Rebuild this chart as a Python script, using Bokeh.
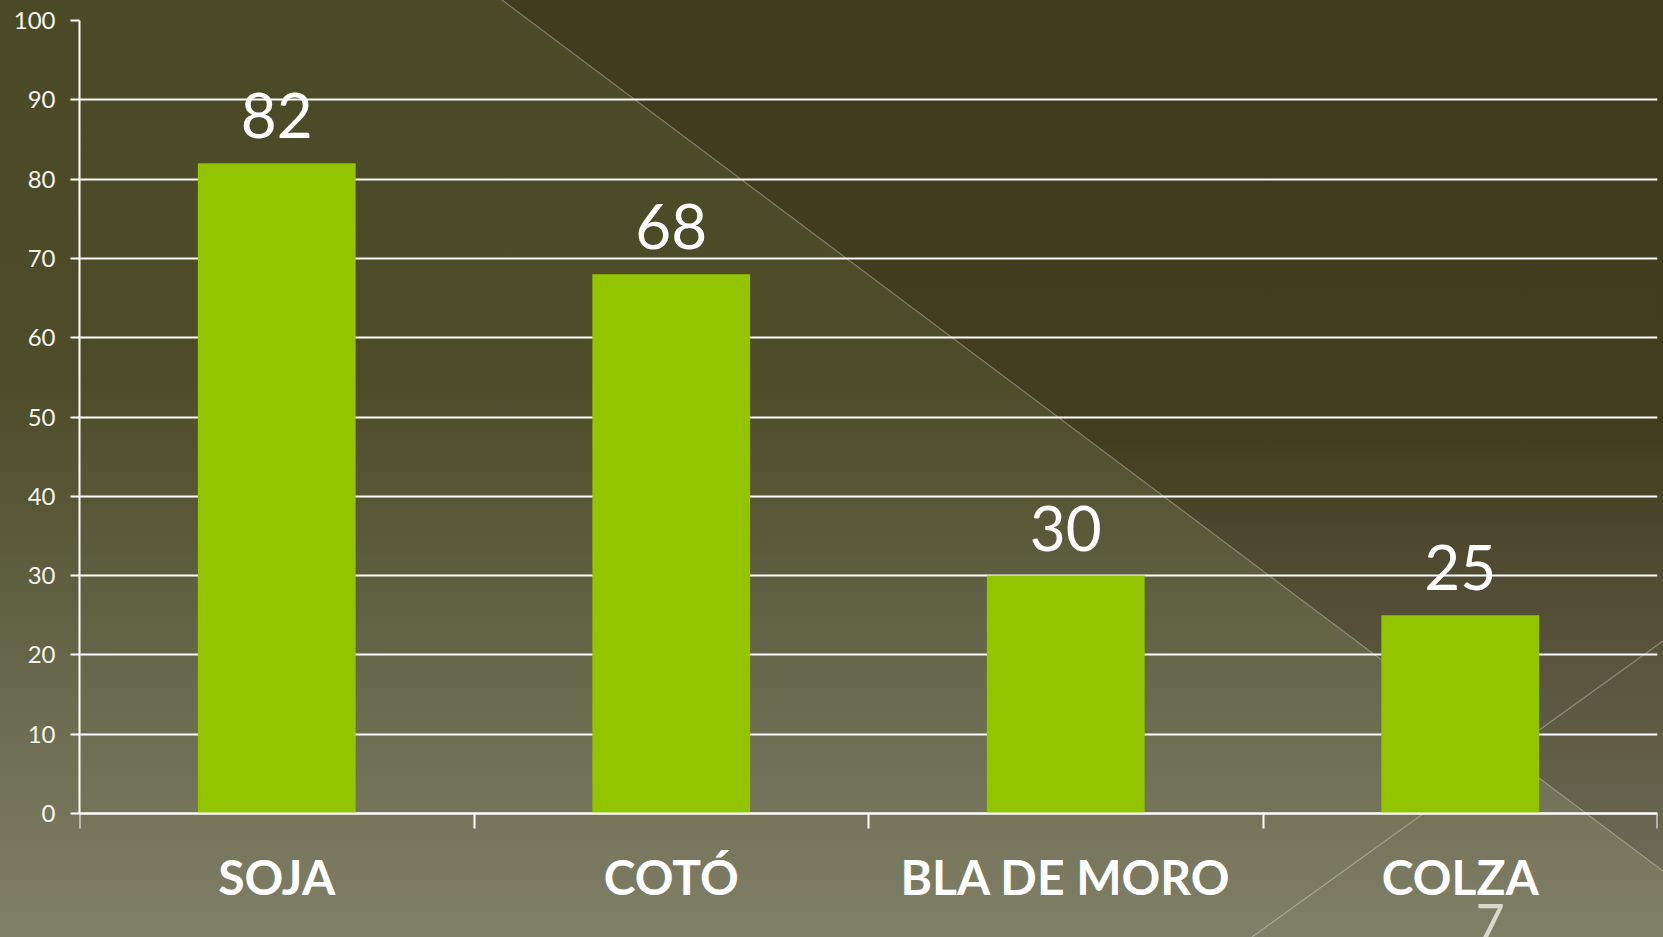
import base64
from bokeh.plotting import figure
from bokeh.models import (FixedTicker, Range1d, LabelSet, ColumnDataSource, Label,
                          GlobalInlineStyleSheet)
from bokeh.embed import file_html
from bokeh.resources import INLINE
from bokeh.core.properties import value

# ---- data ----
categories = ["SOJA", "COTÓ", "BLA DE MORO", "COLZA"]
values = [82, 68, 30, 25]
y_ticks = [0, 10, 20, 30, 40, 50, 60, 70, 80, 90, 100]
slide_number = "7"

BAR_COLOR = "#92c500"
FONT = "Lato"
W, H = 1663, 937
# frame reaches the slide's bottom; value 0 sits 124px above it (793px per 100 units)
Y_START = -124 / 7.93

x_centers = [i + 0.5 for i in range(len(categories))]
x_bounds = [i for i in range(len(categories) + 1)]
source = ColumnDataSource(dict(x=x_centers, top=values, label=[str(v) for v in values]))

p = figure(width=W, height=H, output_backend="svg", toolbar_location=None,
           x_range=Range1d(0, len(categories)), y_range=Range1d(Y_START, 100),
           min_border_left=79, min_border_right=6, min_border_top=20,
           min_border_bottom=0)

p.background_fill_color = None
p.border_fill_color = None
p.outline_line_color = None

# decorative slide background (gradient + diagonal shapes)
svg = f'''<svg xmlns="http://www.w3.org/2000/svg" width="{W}" height="{H}" viewBox="0 0 {W} {H}">
<defs><linearGradient id="g" gradientUnits="userSpaceOnUse" x1="0" y1="0" x2="0" y2="871">
<stop offset="0" stop-color="#403b1f"/><stop offset="0.5" stop-color="#433d20"/>
<stop offset="0.75" stop-color="#57533c"/><stop offset="1" stop-color="#6c6a55"/></linearGradient></defs>
<polygon points="502,0 {W},0 {W},871" fill="url(#g)"/>
<line x1="502" y1="0" x2="{W}" y2="871" stroke="#ffffff" stroke-opacity="0.3" stroke-width="1.2"/>
<line x1="1252" y1="{H}" x2="{W}" y2="641" stroke="#ffffff" stroke-opacity="0.3" stroke-width="1.2"/>
</svg>'''
b64 = base64.b64encode(svg.encode("utf-8")).decode("ascii")
p.styles = {
    "background-image": f'url("data:image/svg+xml;base64,{b64}"), '
                        'linear-gradient(to bottom, #4a4a26 0%, #4c4c28 40%, #5c5c3e 60%, #6f6f55 80%, #807f67 100%)',
    "background-size": f"{W}px {H}px, {W}px {H}px",
    "background-repeat": "no-repeat",
}
p.stylesheets = [GlobalInlineStyleSheet(
    css="html, body { margin: 0; padding: 0; overflow: hidden; background: #807f67; }")]

# grid
p.xgrid.visible = False
p.ygrid.ticker = FixedTicker(ticks=y_ticks)
p.ygrid.grid_line_color = "white"
p.ygrid.grid_line_width = 2

# bars
p.vbar(x="x", top="top", bottom=0, width=0.4, source=source,
       fill_color=BAR_COLOR, line_color=None)

# value labels
labels = LabelSet(x="x", y="top", text="label", source=source, y_offset=25,
                  text_align="center", text_baseline="alphabetic",
                  text_font=value(FONT), text_font_size="62px", text_color="white")
p.add_layout(labels)

# y axis
ya = p.yaxis[0]
ya.ticker = FixedTicker(ticks=y_ticks)
ya.bounds = (0, 100)
ya.axis_line_color = "white"
ya.axis_line_width = 2
ya.major_tick_line_color = "white"
ya.major_tick_line_width = 2
ya.major_tick_in = 0
ya.major_tick_out = 9
ya.minor_tick_line_color = None
ya.major_label_text_font = FONT
ya.major_label_text_font_size = "24px"
ya.major_label_text_color = "#f4f4f0"
ya.major_label_standoff = 15

# x axis (drawn at value 0)
xa = p.xaxis[0]
xa.fixed_location = 0
xa.ticker = FixedTicker(ticks=x_centers, minor_ticks=x_bounds)
xa.major_label_overrides = {x: c for x, c in zip(x_centers, categories)}
xa.axis_line_color = "white"
xa.axis_line_width = 2
xa.major_tick_line_color = None
xa.major_tick_in = 0
xa.major_tick_out = 15
xa.minor_tick_line_color = "white"
xa.minor_tick_line_width = 2
xa.minor_tick_in = 0
xa.minor_tick_out = 15
xa.major_label_text_font = FONT
xa.major_label_text_font_style = "bold"
xa.major_label_text_font_size = "48px"
xa.major_label_text_color = "white"
xa.major_label_standoff = 19

# slide number (partly cut by the slide's bottom edge, as in the original)
p.add_layout(Label(x=x_centers[-1], y=0, x_offset=30, y_offset=-108, text=slide_number,
                   text_align="center", text_baseline="alphabetic", text_font=FONT,
                   text_font_size="50px", text_color="#d8d8cc"))

open("out.html", "w").write(file_html(p, INLINE))
